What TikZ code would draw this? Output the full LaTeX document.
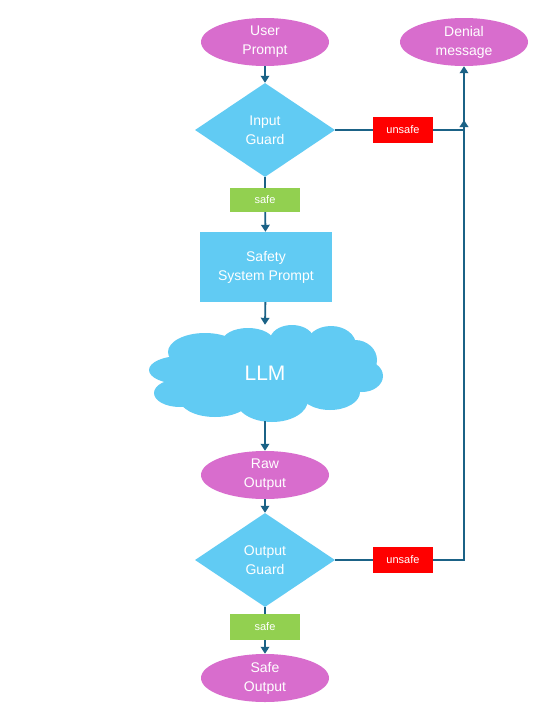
\documentclass[tikz,border=0pt]{standalone}
\usepackage{fontspec}
\setmainfont{Liberation Sans}
\usetikzlibrary{shapes.geometric,arrows.meta}
\definecolor{lineblue}{HTML}{1B6286}
\definecolor{shapeblue}{HTML}{61CBF3}
\definecolor{pinkish}{HTML}{D86DCD}
\definecolor{safegreen}{HTML}{92D050}
\definecolor{unsafered}{HTML}{FF0000}
\begin{document}
\begin{tikzpicture}[x=1pt,y=-1pt,
  txt/.style={text=white,font=\fontsize{14}{19}\selectfont,align=center},
  oval/.style={ellipse,fill=pinkish,minimum width=128pt,minimum height=48pt,inner sep=0pt,txt},
  guard/.style={diamond,fill=shapeblue,minimum width=140pt,minimum height=94pt,inner sep=0pt,aspect=1.49,txt},
  tag/.style={text=white,font=\fontsize{11}{13}\selectfont,inner sep=0pt,minimum height=24pt},
  safetag/.style={tag,fill=safegreen,minimum width=70pt},
  unsafetag/.style={tag,fill=unsafered,minimum width=60pt,minimum height=26pt},
  conn/.style={draw=lineblue,line width=1.8pt},
  arr/.style={conn,-{Triangle[length=7pt,width=8.5pt]}}
]
\useasboundingbox (0,0) rectangle (546,720);
\fill[white] (0,0) rectangle (546,720);

% cloud body
\foreach \cx/\cy/\rx/\ry in {205/352/37/19, 248/342/26/14, 292/340/22/15, 331/345/25/19,
  355/360/22/20, 362/376/21/16, 330/392/30/18, 272/400/36/22, 215/398/36/19,
  180/393/26/14, 181/370/32/14, 265/372/95/30}
  \fill[shapeblue] (\cx,\cy) ellipse [x radius=\rx, y radius=\ry];

\node[oval] (user) at (265,42) {User\\Prompt};
\node[oval] (deny) at (464,42) {Denial\\message};
\node[guard] (ig) at (265,130) {Input\\Guard};
\node[safetag] (safe1) at (265,200) {safe};
\node[unsafetag] (uns1) at (403,130) {unsafe};
\node[fill=shapeblue,minimum width=132pt,minimum height=70pt,inner sep=0pt,txt] (ssp) at (266,267) {Safety\\System Prompt};
\node[minimum width=235pt,minimum height=96pt,inner sep=0pt,text=white,font=\fontsize{21}{24}\selectfont] (llm) at (265,373) {LLM};
\node[oval] (raw) at (265,475) {Raw\\Output};
\node[guard] (og) at (265,560) {Output\\Guard};
\node[unsafetag] (uns2) at (403,560) {unsafe};
\node[safetag,minimum height=26pt] (safe2) at (265,627) {safe};
\node[oval] (sout) at (265,678) {Safe\\Output};

\coordinate (j) at (464,120);

\draw[arr] (user) -- (ig.north);
\draw[conn] (ig.south) -- (safe1);
\draw[arr] (safe1) -- (ssp);
\draw[arr] (ssp) -- (llm.north);
\draw[arr] (llm.south) -- (raw);
\draw[arr] (raw) -- (og.north);
\draw[conn] (og.south) -- (safe2);
\draw[arr] (safe2) -- (sout);
\draw[conn] (ig.east) -- (uns1);
\draw[arr] (uns1) -| (deny.south);
\draw[conn] (og.east) -- (uns2);
\draw[arr] (uns2) -| (j);
\end{tikzpicture}
\end{document}
